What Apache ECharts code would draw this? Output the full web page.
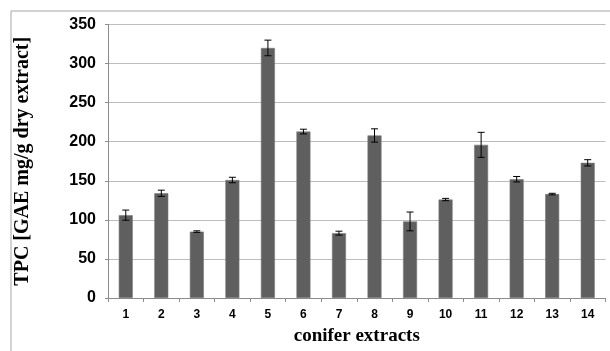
<!DOCTYPE html>
<html><head><meta charset="utf-8">
<script src="https://cdn.jsdelivr.net/npm/echarts@6/dist/echarts.min.js"></script>
<style>html,body{margin:0;padding:0;background:#fff;overflow:hidden}#c{width:610px;height:351px}</style>
</head><body><div id="c"></div>
<script>
const categories = ['1','2','3','4','5','6','7','8','9','10','11','12','13','14'];
const tpcValues = [106, 134, 85, 151, 320, 213, 83, 208, 98, 126, 196, 152, 133, 173];
const tpcErrors = [6.5, 4, 1, 3.5, 10, 3, 2.5, 8.5, 12, 1.5, 16, 3.5, 1, 4];
const yTicks = [0, 50, 100, 150, 200, 250, 300, 350];

const errData = tpcValues.map((v, i) => [i, v - tpcErrors[i], v + tpcErrors[i]]);
const chart = echarts.init(document.getElementById('c'), null, {renderer: 'canvas', width: 610, height: 351});
chart.setOption({
  animation: false,
  grid: {left: 108, right: 4.5, top: 24.5, bottom: 45.5, containLabel: false},
  graphic: [{type: 'rect', shape: {x: 11, y: 11, width: 620, height: 400}, style: {fill: 'none', stroke: '#a6a6a6', lineWidth: 1}, z: -1}],
  xAxis: {
    type: 'category', data: categories,
    name: 'conifer extracts', nameLocation: 'middle', nameGap: 29,
    nameTextStyle: {fontFamily: 'Liberation Serif', fontWeight: 'bold', fontSize: 19, color: '#000'},
    axisLine: {lineStyle: {color: '#8c8c8c'}},
    axisTick: {show: true, length: 4, lineStyle: {color: '#8c8c8c'}},
    axisLabel: {fontFamily: 'Liberation Sans', fontWeight: 'bold', fontSize: 12, color: '#000', margin: 11}
  },
  yAxis: {
    type: 'value', min: 0, max: 350, interval: 50,
    name: 'TPC [GAE mg/g dry extract]', nameLocation: 'middle', nameGap: 75, nameRotate: 90,
    nameTextStyle: {fontFamily: 'Liberation Serif', fontWeight: 'bold', fontSize: 20, color: '#000'},
    axisLine: {show: true, lineStyle: {color: '#8c8c8c'}},
    axisTick: {show: true, length: 3, lineStyle: {color: '#8c8c8c'}},
    axisLabel: {fontFamily: 'Liberation Sans', fontWeight: 'bold', fontSize: 16, color: '#000', margin: 12,
      formatter: v => yTicks.includes(v) ? String(v) : ''},
    splitLine: {lineStyle: {color: '#bdbdbd'}}
  },
  series: [{
    type: 'bar', data: tpcValues, barWidth: 14,
    itemStyle: {color: '#5f5f5f', borderColor: '#7a7a7a', borderWidth: 0.6}
  }, {
    type: 'custom', data: errData,
    renderItem: function (params, api) {
      const x = api.value(0);
      const lo = api.coord([x, api.value(1)]);
      const hi = api.coord([x, api.value(2)]);
      const hw = 3.5;
      const st = {stroke: '#000', lineWidth: 1};
      return {type: 'group', children: [
        {type: 'line', shape: {x1: lo[0], y1: lo[1], x2: hi[0], y2: hi[1]}, style: st},
        {type: 'line', shape: {x1: lo[0]-hw, y1: lo[1], x2: lo[0]+hw, y2: lo[1]}, style: st},
        {type: 'line', shape: {x1: hi[0]-hw, y1: hi[1], x2: hi[0]+hw, y2: hi[1]}, style: st}
      ]};
    },
    z: 5
  }]
});
</script></body></html>
